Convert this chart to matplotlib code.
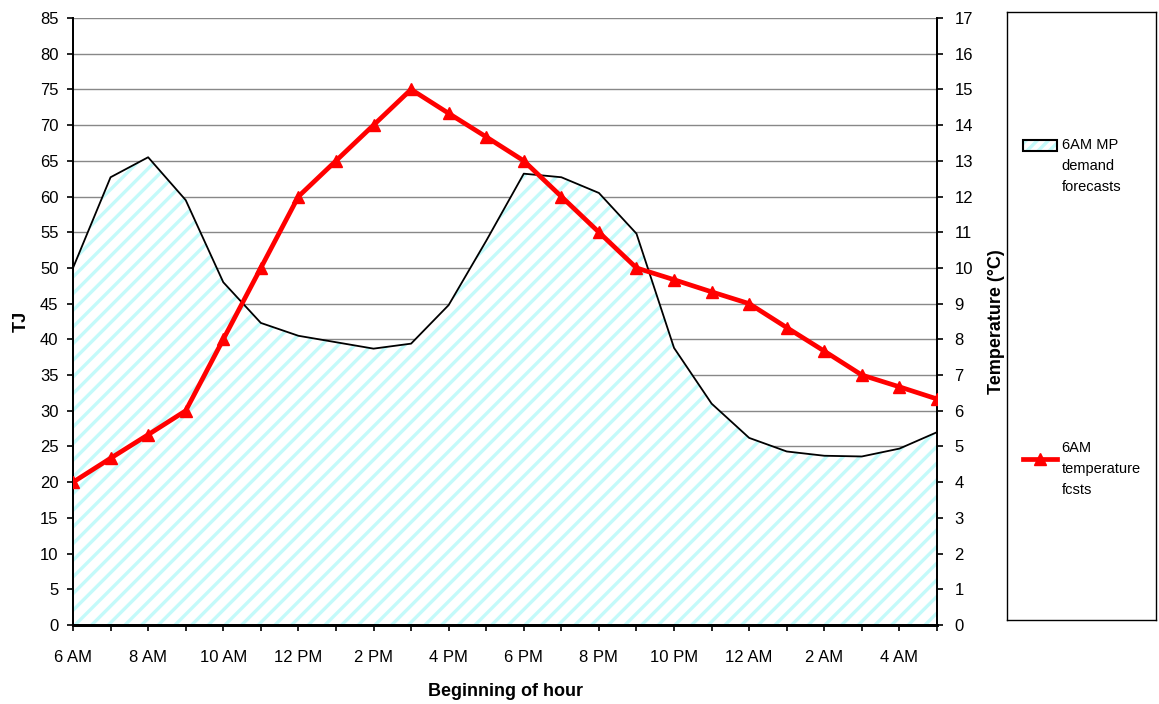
import matplotlib
matplotlib.use("Agg")
import matplotlib.pyplot as plt
from matplotlib.lines import Line2D
from matplotlib.patches import Patch
from matplotlib.legend_handler import HandlerTuple, HandlerLine2D

plt.rcParams['font.family'] = ['Liberation Sans', 'DejaVu Sans']
plt.rcParams['hatch.linewidth'] = 2.4
plt.rcParams['hatch.color'] = '#c4fafa'

hour_labels = ["6 AM", "8 AM", "10 AM", "12 PM", "2 PM", "4 PM", "6 PM",
               "8 PM", "10 PM", "12 AM", "2 AM", "4 AM"]
hours = list(range(24))  # 6 AM .. 5 AM
demand_tj = [50.0, 62.7, 65.5, 59.5, 48.0, 42.3, 40.5, 39.6, 38.7, 39.4,
             44.8, 53.8, 63.2, 62.7, 60.5, 54.8, 38.8, 31.0, 26.2, 24.3,
             23.7, 23.6, 24.7, 27.0]
temperature_c = [4.0, 4.67, 5.33, 6.0, 8.0, 10.0, 12.0, 13.0, 14.0, 15.0,
                 14.33, 13.67, 13.0, 12.0, 11.0, 10.0, 9.67, 9.33, 9.0, 8.33,
                 7.67, 7.0, 6.67, 6.33]
demand_label = "6AM MP\ndemand\nforecasts"
temp_label = "6AM\ntemperature\nfcsts"

CYAN = '#c4fafa'
RED = '#ff0000'

W, H = 1159, 704
fig = plt.figure(figsize=(W / 100, H / 100), dpi=100)
L, R, T, B = 73, 937, 18, 625
ax = fig.add_axes([L / W, 1 - B / H, (R - L) / W, (B - T) / H])
ax2 = ax.twinx()

ax.fill_between(hours, 0, demand_tj, facecolor='white', hatch='//',
                edgecolor=CYAN, linewidth=0, zorder=2)
ax.plot(hours, demand_tj, color='black', lw=1.3, zorder=3)

ax2.plot(hours, temperature_c, color=RED, lw=3.4, marker='^',
         markersize=8, zorder=4)

ax.set_xlim(0, 23)
ax.set_ylim(0, 85)
ax2.set_ylim(0, 17)
ax.set_yticks(range(0, 86, 5))
ax2.set_yticks(range(0, 18))
ax.set_xticks(range(0, 23, 2))
ax.set_xticklabels(hour_labels)
ax.set_xticks(range(0, 24), minor=True)

ax.yaxis.grid(True, color='#888888', lw=1.0, zorder=0)
ax.set_axisbelow(True)
for a in (ax, ax2):
    a.spines['top'].set_visible(False)
    a.spines['left'].set_linewidth(1.3)
    a.spines['right'].set_linewidth(1.3)
    a.spines['bottom'].set_linewidth(2.0)
ax.tick_params(axis='both', which='both', direction='out', length=4.5,
               width=1.2, labelsize=12, pad=6)
ax.tick_params(axis='x', which='major', pad=13.5)
ax2.tick_params(axis='y', direction='out', length=4.5, width=1.2,
                labelsize=12, pad=8)

ax.set_ylabel("TJ", fontsize=13, fontweight='bold', labelpad=7)
ax.set_xlabel("Beginning of hour", fontsize=13, fontweight='bold', labelpad=13)
ax2.set_ylabel("Temperature (°C)", fontsize=13, fontweight='bold', labelpad=11)


# legend box
lx0, lx1, ly0, ly1 = 1007, 1156, 12, 620
lax = fig.add_axes([lx0 / W, 1 - ly1 / H, (lx1 - lx0) / W, (ly1 - ly0) / H])
lax.set_xticks([])
lax.set_yticks([])
for s in lax.spines.values():
    s.set_linewidth(1.0)
    s.set_color('black')
lax.patch.set_alpha(0)

SHIFT = 1.44  # handle aligned with the first text line


class ShiftTuple(HandlerTuple):
    def adjust_drawing_area(self, legend, orig_handle, xdescent, ydescent,
                            width, height, fontsize):
        xd, yd, w, h = super().adjust_drawing_area(
            legend, orig_handle, xdescent, ydescent, width, height, fontsize)
        return xd, yd - SHIFT * fontsize, w, h


class ShiftLine(HandlerLine2D):
    def adjust_drawing_area(self, legend, orig_handle, xdescent, ydescent,
                            width, height, fontsize):
        xd, yd, w, h = super().adjust_drawing_area(
            legend, orig_handle, xdescent, ydescent, width, height, fontsize)
        return xd, yd - SHIFT * fontsize, w, h


fs = 10.5
hx = (1023 - lx0) / (lx1 - lx0)
h1 = (Patch(facecolor='white', hatch='///', edgecolor=CYAN, linewidth=0),
      Patch(facecolor='none', edgecolor='black', linewidth=1.5))
leg1 = lax.legend([h1], [demand_label], loc='center left',
                  bbox_to_anchor=(hx, 1 - (166 - ly0) / (ly1 - ly0)),
                  frameon=False, fontsize=fs, handlelength=2.3,
                  handleheight=0.75, handletextpad=0.35, borderpad=0,
                  borderaxespad=0,
                  handler_map={tuple: ShiftTuple(ndivide=1, pad=0)})
for t in leg1.get_texts():
    t.set_linespacing(1.6)
h2 = Line2D([], [], color=RED, lw=3.4, marker='^', markersize=8)
leg2 = lax.legend([h2], [temp_label], loc='center left',
                  bbox_to_anchor=(hx, 1 - (469 - ly0) / (ly1 - ly0)),
                  frameon=False, fontsize=fs, handlelength=2.3,
                  handletextpad=0.35, borderpad=0, borderaxespad=0,
                  handler_map={Line2D: ShiftLine()})
for t in leg2.get_texts():
    t.set_linespacing(1.6)
lax.add_artist(leg1)

fig.savefig("out.png", dpi=100)
